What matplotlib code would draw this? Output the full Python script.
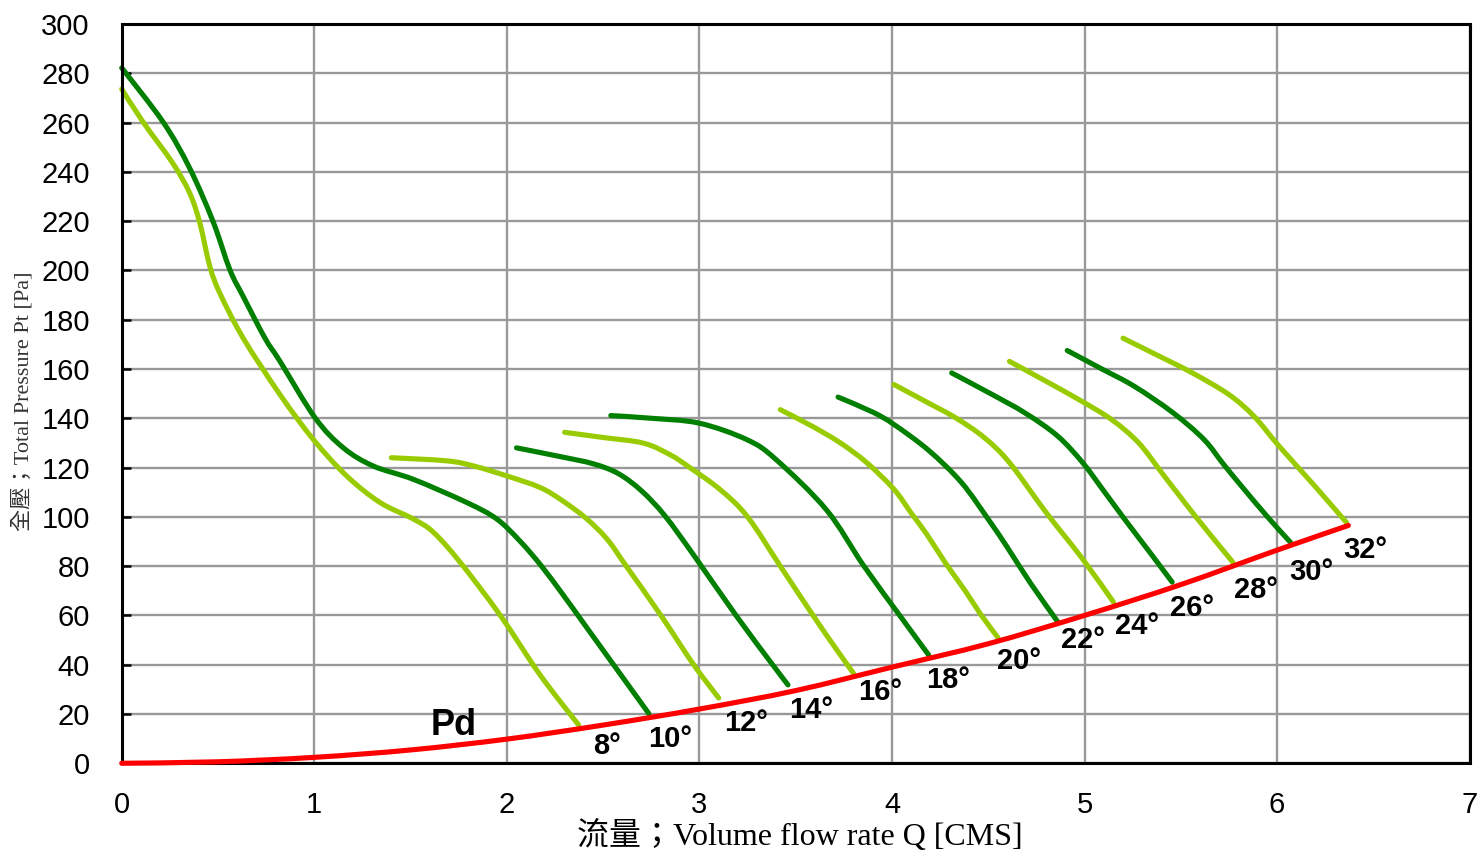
import matplotlib
matplotlib.use("Agg")
from matplotlib import pyplot as plt
from matplotlib.path import Path
from matplotlib.patches import PathPatch

# fan curves: flow Q [CMS] and total pressure Pt [Pa]
q_8 = [0, 0.111, 0.267, 0.354, 0.406, 0.458, 0.510, 0.631, 0.822, 0.995, 1.168, 1.342, 1.515, 1.619, 1.758, 1.966, 2.174, 2.373]
p_8 = [273.6, 260.2, 243.3, 231.2, 219.1, 201.5, 190.7, 172.5, 149.6, 131.4, 116.6, 105.8, 99.1, 93.7, 81.5, 60.0, 35.7, 15.5]

q_10 = [0, 0.215, 0.354, 0.475, 0.562, 0.631, 0.744, 0.822, 1.004, 1.151, 1.307, 1.515, 1.792, 1.948, 2.07, 2.18, 2.30, 2.42, 2.737]
p_10 = [282.2, 260.2, 241.3, 219.7, 200.2, 189.4, 172.5, 163.1, 140.2, 128.0, 120.6, 115.2, 105.8, 99.1, 90.0, 80.0, 67.5, 54.5, 20.2]

q_12 = [1.40, 1.69, 1.83, 2.00, 2.17, 2.28, 2.41, 2.52, 2.62, 2.80, 2.97, 3.10]
p_12 = [124.0, 122.7, 120.6, 116.6, 112.0, 107.0, 99.5, 91.0, 80.0, 60.0, 40.0, 26.5]

q_14 = [2.05, 2.28, 2.45, 2.58, 2.70, 2.82, 2.97, 3.19, 3.38, 3.46]
p_14 = [128.0, 124.4, 121.5, 117.5, 110.5, 100.5, 84.5, 60.0, 40.0, 31.8]

q_16 = [2.30, 2.50, 2.71, 2.85, 2.95, 3.11, 3.25, 3.42, 3.59, 3.70, 3.80]
p_16 = [134.3, 132.2, 129.9, 125.1, 120.0, 110.9, 100.0, 80.0, 60.0, 47.5, 36.5]

q_18 = [2.54, 2.75, 3.00, 3.25, 3.40, 3.66, 3.85, 4.04, 4.19]
p_18 = [141.1, 140.0, 138.0, 131.2, 123.1, 102.8, 80.5, 60.0, 44.0]

q_20 = [3.42, 3.58, 3.73, 3.87, 4.01, 4.10, 4.18, 4.28, 4.38, 4.46, 4.55]
p_20 = [143.5, 137.0, 130.1, 121.9, 111.2, 101.5, 93.0, 81.0, 70.0, 60.5, 51.0]

q_22 = [3.72, 3.90, 4.01, 4.19, 4.36, 4.50, 4.60, 4.72, 4.86]
p_22 = [148.6, 142.5, 137.5, 127.0, 114.0, 99.0, 87.5, 73.0, 57.5]

q_24 = [4.01, 4.17, 4.33, 4.48, 4.61, 4.80, 4.99, 5.15]
p_24 = [153.7, 147.0, 140.2, 132.1, 122.0, 101.8, 82.9, 65.4]

q_26 = [4.31, 4.50, 4.69, 4.86, 4.99, 5.10, 5.22, 5.34, 5.455]
p_26 = [158.4, 150.5, 142.2, 132.8, 122.0, 110.5, 97.8, 85.5, 73.5]

q_28 = [4.61, 4.80, 4.97, 5.14, 5.28, 5.40, 5.52, 5.64, 5.77]
p_28 = [163.1, 155.0, 147.6, 139.5, 130.1, 118.0, 105.8, 94.0, 81.6]

q_30 = [4.91, 5.09, 5.26, 5.46, 5.62, 5.72, 5.82, 5.95, 6.07]
p_30 = [167.5, 160.0, 152.9, 142.2, 131.4, 121.5, 112.0, 100.0, 89.6]

q_32 = [5.20, 5.38, 5.56, 5.75, 5.88, 6.01, 6.19, 6.36]
p_32 = [172.5, 165.5, 158.4, 149.6, 140.8, 128.7, 113.0, 97.7]

# dynamic pressure line
q_pd = [0, 0.5, 1, 1.5, 2, 2.5, 3, 3.5, 4, 4.5, 5, 5.5, 6, 6.37]
p_pd = [0, 0.6, 2.4, 5.4, 9.8, 15.5, 22.0, 29.5, 39.0, 48.5, 60.0, 72.5, 86.5, 96.5]

# blade angle labels (x centre, y baseline)
angle_labels = ['8°', '10°', '12°', '14°', '16°', '18°', '20°', '22°', '24°', '26°', '28°', '30°', '32°']
label_x = [2.52, 2.85, 3.24, 3.58, 3.94, 4.29, 4.66, 4.99, 5.27, 5.56, 5.89, 6.18, 6.46]
label_y = [3.6, 6.6, 13.1, 18.5, 25.5, 30.6, 38.1, 46.6, 52.6, 59.9, 67.0, 74.4, 83.4]

light = '#99cc00'
dark = '#007f00'


def smooth_line(ax, q, p, color, z):
    # excel style smoothed line: bezier segments through the read points
    pts = list(zip(q, p))
    n = len(pts)
    verts = [pts[0]]
    codes = [Path.MOVETO]
    for i in range(n - 1):
        p0 = pts[i - 1] if i > 0 else pts[i]
        p1 = pts[i]
        p2 = pts[i + 1]
        p3 = pts[i + 2] if i + 2 < n else pts[i + 1]
        c1 = (p1[0] + (p2[0] - p0[0]) / 6, p1[1] + (p2[1] - p0[1]) / 6)
        c2 = (p2[0] - (p3[0] - p1[0]) / 6, p2[1] - (p3[1] - p1[1]) / 6)
        verts += [c1, c2, p2]
        codes += [Path.CURVE4] * 3
    patch = PathPatch(Path(verts, codes), facecolor='none', edgecolor=color,
                      lw=3.7, capstyle='round', joinstyle='round',
                      clip_on=False, zorder=z)
    ax.add_patch(patch)


fig = plt.figure(figsize=(14.79, 8.51), dpi=100)
ax = fig.add_axes([0.0823, 0.1031, 0.9114, 0.8687])

curves = [(q_8, p_8), (q_10, p_10), (q_12, p_12), (q_14, p_14), (q_16, p_16),
          (q_18, p_18), (q_20, p_20), (q_22, p_22), (q_24, p_24), (q_26, p_26),
          (q_28, p_28), (q_30, p_30), (q_32, p_32)]
for i, (q, p) in enumerate(curves):
    col = light if i % 2 == 0 else dark
    smooth_line(ax, q, p, col, 2)

smooth_line(ax, q_pd, p_pd, '#ff0000', 4)

for t, x, y in zip(angle_labels, label_x, label_y):
    ax.text(x, y, t, ha='center', va='baseline', fontsize=21,
            fontweight='bold', family='Liberation Sans')
ax.text(1.726, 11.5, 'Pd', ha='center', va='baseline', fontsize=26,
        fontweight='bold', family='Liberation Sans')

ax.set_xlim(0, 7)
ax.set_ylim(0, 300)
ax.set_xticks(range(0, 8))
ax.set_yticks(range(0, 301, 20))
ax.grid(True, color='#999999', lw=1.7)
ax.set_axisbelow(True)
for s in ax.spines.values():
    s.set_color('black')
    s.set_linewidth(2.2)

ax.tick_params(axis='y', direction='in', length=6.5, width=1.8, pad=23,
               labelsize=21)
ax.tick_params(axis='x', length=0, pad=20, labelsize=21)
for lab in ax.get_xticklabels() + ax.get_yticklabels():
    lab.set_family('Liberation Sans')

fig.text(800 / 1479, 1 - 836 / 851, '流量；Volume flow rate Q [CMS]',
         ha='center', va='center', fontsize=23,
         family=['Liberation Serif', 'Noto Sans CJK TC'])
fig.text(23 / 1479, 1 - 401 / 851, '全壓；Total Pressure Pt [Pa]',
         ha='center', va='center', rotation=90, fontsize=16,
         family=['Liberation Serif', 'Noto Sans CJK TC'], color='#333333')

fig.savefig('out.png', dpi=100)
